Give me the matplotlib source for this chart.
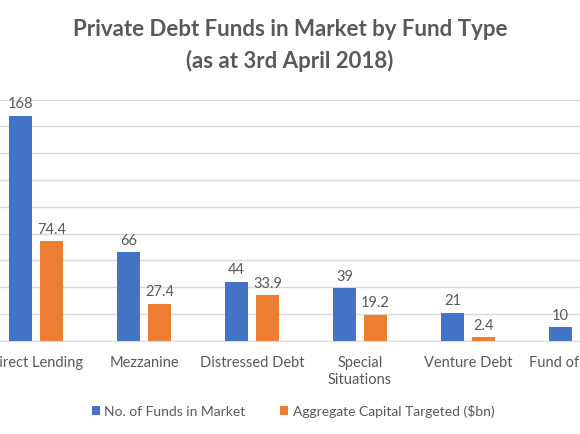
import matplotlib
matplotlib.use("Agg")
import matplotlib.pyplot as plt
import numpy as np

categories = ["Direct Lending", "Mezzanine", "Distressed Debt", "Special\nSituations", "Venture Debt", "Fund of Funds"]
funds_in_market = [168, 66, 44, 39, 21, 10]
capital_targeted = [74.4, 27.4, 33.9, 19.2, 2.4, 1.0]
series_names = ["No. of Funds in Market", "Aggregate Capital Targeted ($bn)"]

plt.rcParams['font.family'] = ['Lato', 'DejaVu Sans']
txt = "#595959"
blue = "#4472C4"
orange = "#ED7D31"

fig = plt.figure(figsize=(5.8, 4.35), dpi=100)
ax = fig.add_axes([-18/580, (435-341.7)/435, 648/580, (341.7-100.7)/435])

x = np.arange(len(categories))
w = 0.222
off = 0.1435
b1 = ax.bar(x - off, funds_in_market, w, color=blue, label=series_names[0], zorder=3)
b2 = ax.bar(x + off, capital_targeted, w, color=orange, label=series_names[1], zorder=3)

for bars, vals in ((b1, funds_in_market), (b2, capital_targeted)):
    for r, v in zip(bars, vals):
        ax.annotate(f"{v:g}", (r.get_x() + r.get_width()/2, r.get_height()),
                    xytext=(0, 4), textcoords="offset points", ha="center", va="bottom",
                    fontsize=10.5, color=txt, zorder=4)

ax.set_xlim(-0.5, len(categories) - 0.5)
ax.set_ylim(0, 180)
ax.set_yticks(np.arange(0, 181, 20))
ax.yaxis.grid(True, color="#d9d9d9", linewidth=1, zorder=0)
ax.tick_params(axis="y", left=False, labelleft=False)
ax.set_xticks(x)
ax.set_xticklabels(categories, fontsize=10.5, color=txt, linespacing=1.35)
ax.tick_params(axis="x", length=0, pad=10)
for s in ("top", "right", "left"):
    ax.spines[s].set_visible(False)
ax.spines["bottom"].set_color("#d9d9d9")
ax.spines["bottom"].set_zorder(3)

fig.text(0.5, 1 - 30/435, "Private Debt Funds in Market by Fund Type", ha="center", va="center",
         fontsize=16, fontweight="bold", color=txt)
fig.text(0.5, 1 - 61/435, "(as at 3rd April 2018)", ha="center", va="center",
         fontsize=16, fontweight="bold", color=txt)

fig.legend(handles=[b1, b2], loc="center", bbox_to_anchor=(0.505, 1 - 412/435), ncol=2,
           frameon=False, fontsize=10, labelcolor=txt, handlelength=0.6, handleheight=0.6,
           handletextpad=0.3, columnspacing=2.5)

fig.savefig("out.png", dpi=100)
